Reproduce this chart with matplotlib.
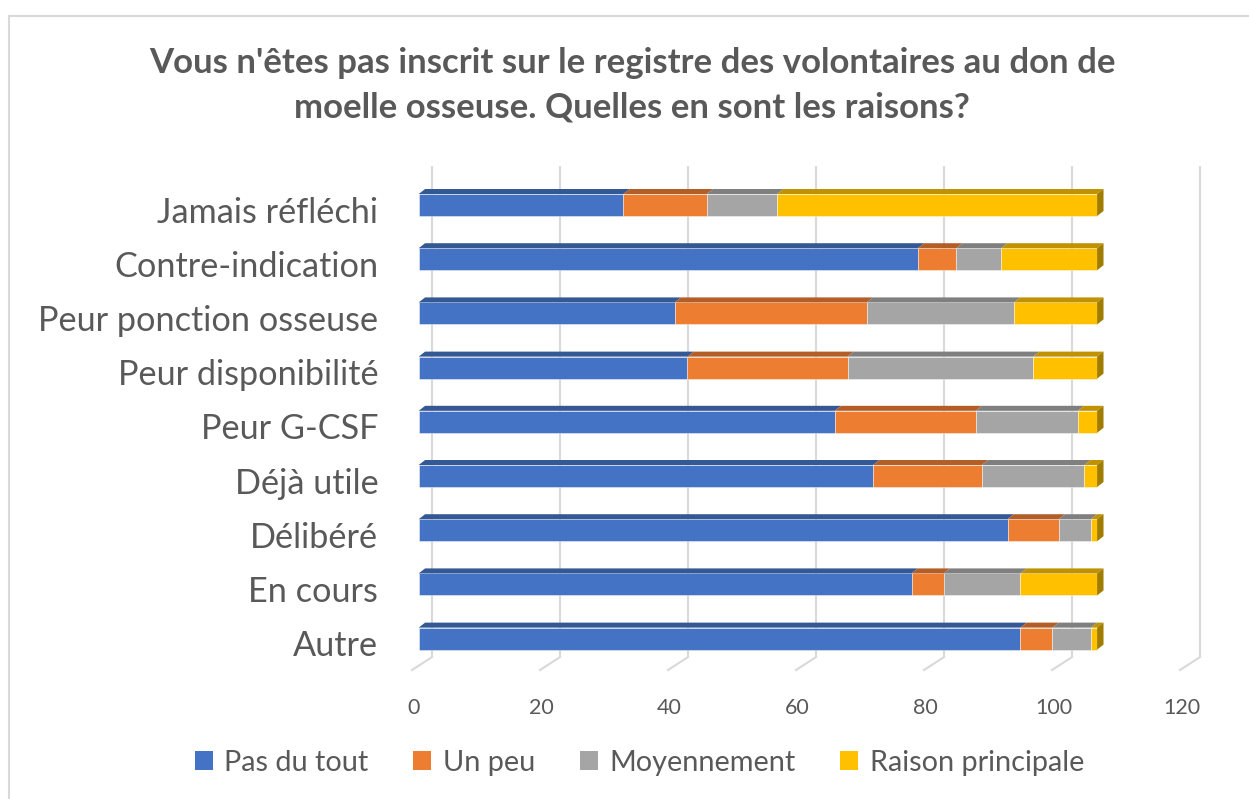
import matplotlib.pyplot as plt
from matplotlib.patches import Polygon, Rectangle, Patch
import numpy as np

plt.rcParams['font.family'] = ['Lato', 'DejaVu Sans']

categories = ["Jamais réfléchi", "Contre-indication", "Peur ponction osseuse",
              "Peur disponibilité", "Peur G-CSF", "Déjà utile", "Délibéré",
              "En cours", "Autre"]
pas_du_tout = [32, 78, 40, 42, 65, 71, 92, 77, 94]
un_peu = [13, 6, 30, 25, 22, 17, 8, 5, 5]
moyennement = [11, 7, 23, 29, 16, 16, 5, 12, 6]
raison_principale = [50, 15, 13, 10, 3, 2, 1, 12, 1]
series_names = ["Pas du tout", "Un peu", "Moyennement", "Raison principale"]
xticks = [0, 20, 40, 60, 80, 100, 120]

front_cols = ["#4472C4", "#ED7D31", "#A5A5A5", "#FFC000"]
top_cols = ["#345894", "#B35E27", "#7F7F7F", "#C09200"]
side_col = "#A07C00"
text_col = "#595959"

fig = plt.figure(figsize=(12.49, 7.99), dpi=100)
# chart border
fig.patches.append(Rectangle((9 / 1249, -0.1), 1.2, 1 - 16 / 799 + 0.1,
                             transform=fig.transFigure, fill=False,
                             edgecolor="#d9d9d9", linewidth=1.5))

ax = fig.add_axes([400 / 1249, (799 - 692.8) / 799, 820 / 1249, 542 / 799])
ax.set_xlim(-2.92, 125.2)
ax.set_ylim(-1, 9)
ax.axis("off")

# 3d offsets (data units)
back = 2.08      # gridline plane behind the bar front
front = -1.05    # floor front edge
dx, dy = 1.0, 0.092
h = 0.406

for v in xticks:
    ax.plot([v + back, v + back], [-0.34, 8.70], color="#d9d9d9", lw=1.5, zorder=0)
    ax.plot([v + front, v + back], [-0.58, -0.34], color="#d9d9d9", lw=1.5, zorder=0)
    ax.text(v - 0.8, -1.28, str(v), ha="center", va="center", fontsize=15.5,
            color=text_col, clip_on=False)

data = np.array([pas_du_tout, un_peu, moyennement, raison_principale])
ypos = np.arange(len(categories))[::-1]
lefts = np.zeros(len(categories))
for k in range(4):
    ax.barh(ypos, data[k], left=lefts, height=h, color=front_cols[k],
            edgecolor=(1, 1, 1, 0.5), linewidth=0.6, zorder=2)
    for y, l, w in zip(ypos, lefts, data[k]):
        t = y + h / 2
        ax.add_patch(Polygon([(l, t), (l + w, t), (l + w + dx, t + dy), (l + dx, t + dy)],
                             closed=True, facecolor=top_cols[k], edgecolor="none", zorder=2))
    lefts = lefts + data[k]

for y, tot in zip(ypos, lefts):
    b, t = y - h / 2, y + h / 2
    ax.add_patch(Polygon([(tot, b), (tot, t), (tot + dx, t + dy), (tot + dx, b + dy)],
                         closed=True, facecolor=side_col, edgecolor="none", zorder=2))

for y, c in zip(ypos, categories):
    ax.text(-6.3, y - 0.14, c, ha="right", va="center", fontsize=24.7, color=text_col,
            clip_on=False)

fig.text(0.506, 1 - 85 / 799, "Vous n'êtes pas inscrit sur le registre des volontaires au don de\nmoelle osseuse. Quelles en sont les raisons?",
         ha="center", va="center", fontsize=25, fontweight="bold", color=text_col,
         linespacing=1.47)

handles = [Patch(facecolor=c, edgecolor="none") for c in front_cols]
fig.legend(handles, series_names, loc="center", bbox_to_anchor=(0.512, 1 - 763 / 799),
           ncol=4, frameon=False, fontsize=20.8, labelcolor=text_col,
           handlelength=0.62, handleheight=0.62, handletextpad=0.4, columnspacing=1.55)

fig.savefig("out.png", dpi=100)
